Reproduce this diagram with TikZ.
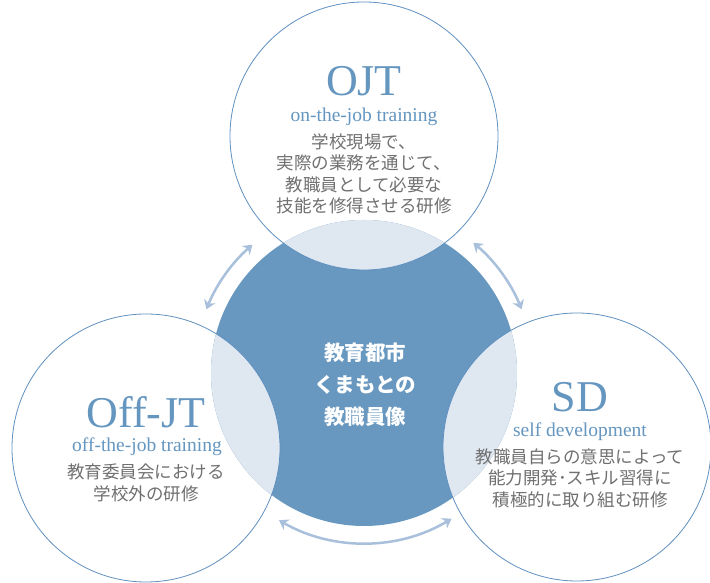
\documentclass[tikz,border=0pt]{standalone}
\usepackage{fontspec}
\setmainfont{Liberation Serif}
\newfontfamily\jp{Noto Sans CJK JP}
\usetikzlibrary{arrows.meta}
\definecolor{coreblue}{RGB}{104,152,192}
\definecolor{ringblue}{RGB}{96,144,192}
\definecolor{paleblue}{RGB}{223,231,241}
\definecolor{arrowblue}{RGB}{168,192,220}
\definecolor{textgray}{RGB}{112,112,112}
\definecolor{titleblue}{RGB}{100,150,192}
\tikzset{
  ring/.style={circle,fill=white,minimum size=268pt,inner sep=0pt},
  core/.style={circle,fill=coreblue,minimum size=306pt,inner sep=0pt},
  title/.style={text=titleblue,font=\fontsize{44}{44}\selectfont,inner sep=0pt},
  sub/.style={text=titleblue,font=\fontsize{19.5}{22}\selectfont,inner sep=0pt},
  desc/.style={text=textgray,align=center,font=\jp\fontsize{17.5}{21.5}\selectfont,inner sep=0pt},
  flow/.style={{Stealth[length=9pt,width=12pt]}-{Stealth[length=9pt,width=12pt]},line width=2.5pt,draw=arrowblue}
}
\begin{document}
\begin{tikzpicture}[x=1pt,y=1pt]
\useasboundingbox (0,0) rectangle (710,583);
\node[ring] (ojt) at (364,447) {};
\node[ring] (offjt) at (146,135) {};
\node[ring] (sd) at (577,136) {};
\node[core] (core) at (364,210) {};
\begin{scope}
\clip (core.center) circle (153);
\fill[paleblue] (ojt.center) circle (134);
\fill[paleblue] (offjt.center) circle (134);
\fill[paleblue] (sd.center) circle (134);
\end{scope}
\draw[ringblue,line width=0.8pt] (ojt.center) circle (134);
\draw[ringblue,line width=0.8pt] (offjt.center) circle (134);
\draw[ringblue,line width=0.8pt] (sd.center) circle (134);
\draw[flow] (core.center) ++(158:170) arc[start angle=158,end angle=131,radius=170];
\draw[flow] (core.center) ++(50:170) arc[start angle=50,end angle=22,radius=170];
\draw[flow] (core.center) ++(240:170) arc[start angle=240,end angle=301,radius=170];
\node[title] (ojtT) at (364,502) {OJT};
\node[sub] (ojtS) at (364,466) {on-the-job training};
\node[desc] (ojtD) at (364,409) {学校現場で、\\実際の業務を通じて、\\教職員として必要な\\技能を修得させる研修};
\node[title] (offjtT) at (146,171) {Off-JT};
\node[sub] (offjtS) at (147,136) {off-the-job training};
\node[desc] (offjtD) at (146,100) {教育委員会における\\学校外の研修};
\node[title] (sdT) at (580,186) {SD};
\node[sub] (sdS) at (580,151) {self development};
\node[desc] (sdD) at (580,105) {教職員自らの意思によって\\能力開発･スキル習得に\\積極的に取り組む研修};
\node[text=white,align=center,inner sep=0pt,font=\jp\bfseries\fontsize{20.5}{32}\selectfont] (coreT) at (365,198) {教育都市\\くまもとの\\教職員像};
\end{tikzpicture}
\end{document}
